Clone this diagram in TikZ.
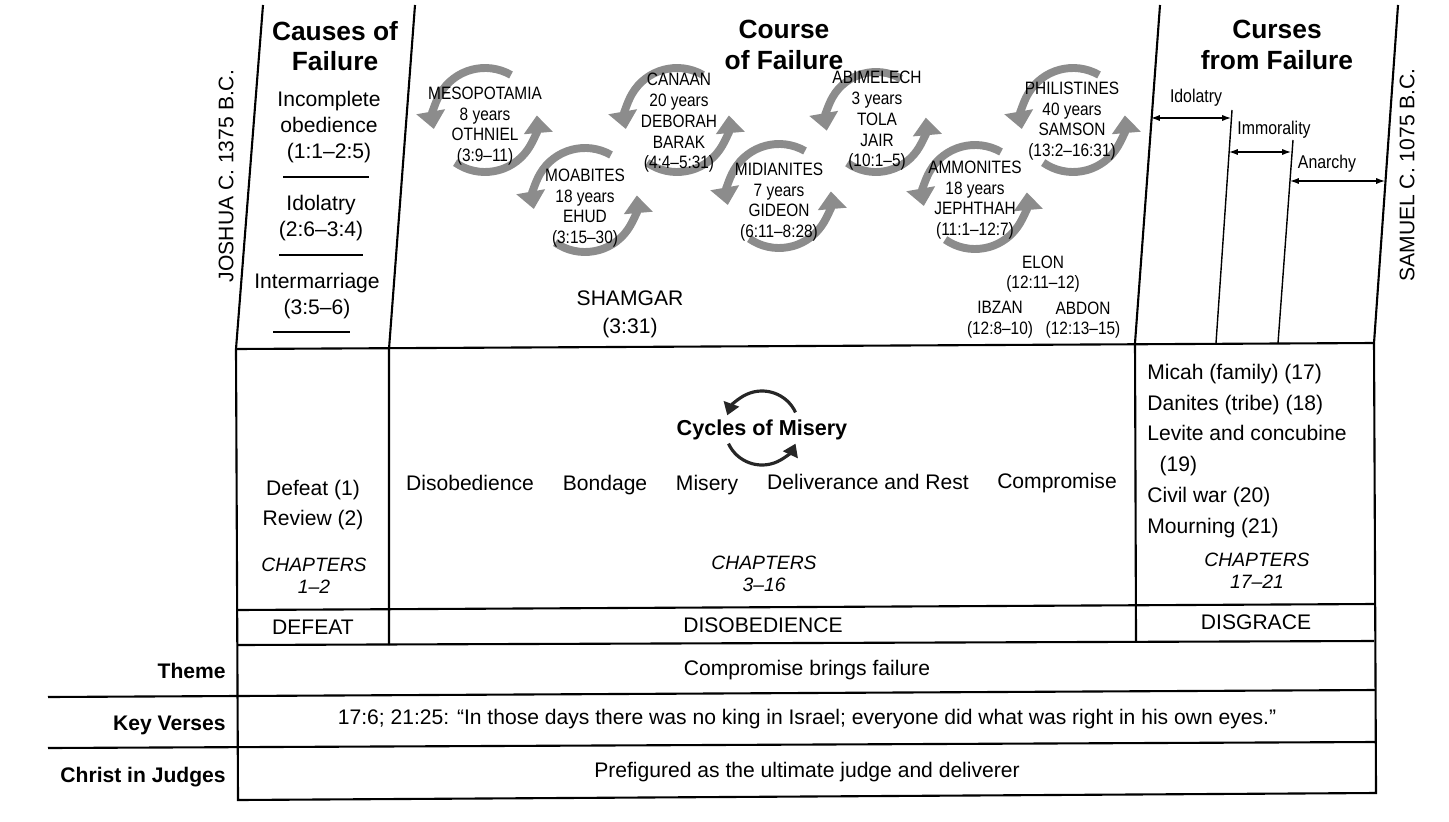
\documentclass[tikz,border=0pt]{standalone}
\usepackage{fontspec}
\setmainfont{Liberation Sans}
\newfontfamily\narrowfont[FakeStretch=0.86]{Liberation Sans}
\usetikzlibrary{arrows.meta,backgrounds}

\begin{document}
\begin{tikzpicture}[x=0.02cm,y=-0.02cm,
    boxline/.style={line width=1.2pt},
    sepline/.style={line width=0.8pt},
    headtxt/.style={font=\bfseries\fontsize{15}{17.5}\selectfont,align=center,inner sep=0pt},
    txt/.style={font=\fontsize{12}{15}\selectfont,align=center,inner sep=0pt},
    line/.style={txt,anchor=base},
    judge/.style={font=\narrowfont\fontsize{10.2}{11.8}\selectfont,align=center,inner sep=0pt},
    curse/.style={font=\narrowfont\fontsize{10.5}{12}\selectfont,anchor=base,inner sep=0pt},
    chap/.style={font=\itshape\fontsize{11}{12.5}\selectfont,align=center,inner sep=0pt},
    rowlab/.style={font=\bfseries\fontsize{12}{14}\selectfont,anchor=base east,inner sep=0pt},
    cycarrow/.style={draw=black!45,line width=4.5pt,-{Triangle[width=16pt,length=10pt]}},
    misarrow/.style={draw=black!85,line width=1.8pt,-{Triangle[width=9pt,length=7pt]}},
    spanarrow/.style={line width=0.7pt,<->,>={Latex[length=5pt,width=3.5pt]}}]

    \useasboundingbox (0,0) rectangle (1449,821);

    % frame of the chart
    \draw[boxline] (263,5) -- (236,349) -- (238,800) -- (1376,793) -- (1374,343) -- (1398,5);
    \draw[boxline] (415,5) -- (389,349) -- (389,645);
    \draw[boxline] (1160,5) -- (1135,343) -- (1136,641);
    \draw[boxline] (236,349) -- (1374,343);
    \draw[boxline] (237,610) -- (1374,604);
    \draw[boxline] (237,645) -- (1374,641);
    \draw[boxline] (48,697) -- (1375,690);
    \draw[boxline] (48,748) -- (1375,742);

    % side dates
    \node[txt,rotate=90] (joshua) at (226,176) {JOSHUA C. 1375 B.C.};
    \node[txt,rotate=90] (samuel) at (1407,175) {SAMUEL C. 1075 B.C.};

    % causes
    \node[headtxt] (causes) at (335,46) {Causes of\\Failure};
    \node[txt] (incomp) at (329,127) {Incomplete\\obedience\\(1:1–2:5)};
    \draw[sepline] (283,177) -- (369,177);
    \node[txt] (idol) at (321,218) {Idolatry\\(2:6–3:4)};
    \draw[sepline] (279,255) -- (363,255);
    \node[txt] (inter) at (317,296) {Intermarriage\\(3:5–6)};
    \draw[sepline] (273,332) -- (350,332);

    % course
    \node[headtxt] (course) at (784,45) {Course\\of Failure};
    \node[judge] (meso) at (485,126) {MESOPOTAMIA\\8 years\\OTHNIEL\\(3:9–11)};
    \node[judge] (moab) at (585,208) {MOABITES\\18 years\\EHUD\\(3:15–30)};
    \node[judge] (canaan) at (679,123) {CANAAN\\20 years\\DEBORAH\\BARAK\\(4:4–5:31)};
    \node[judge] (midian) at (779,202) {MIDIANITES\\7 years\\GIDEON\\(6:11–8:28)};
    \node[judge] (abim) at (877,121) {ABIMELECH\\3 years\\TOLA\\JAIR\\(10:1–5)};
    \node[judge] (ammon) at (975,200) {AMMONITES\\18 years\\JEPHTHAH\\(11:1–12:7)};
    \node[judge] (phil) at (1072,121) {PHILISTINES\\40 years\\SAMSON\\(13:2–16:31)};

    % cycle centres
    \coordinate (c1) at (485,120);
    \coordinate (c2) at (585,200);
    \coordinate (c3) at (677,120);
    \coordinate (c4) at (779,196);
    \coordinate (c5) at (876,122);
    \coordinate (c6) at (975,197);
    \coordinate (c7) at (1073,120);

    \begin{pgfonlayer}{background}
        \draw[cycarrow] ([shift={(-60:52)}]c1) arc[start angle=-60,end angle=-190,radius=52];
        \draw[cycarrow] ([shift={(-235:52)}]c1) arc[start angle=-235,end angle=-365,radius=52];
        \draw[cycarrow] ([shift={(-60:52)}]c2) arc[start angle=-60,end angle=-190,radius=52];
        \draw[cycarrow] ([shift={(-235:52)}]c2) arc[start angle=-235,end angle=-365,radius=52];
        \draw[cycarrow] ([shift={(-60:52)}]c3) arc[start angle=-60,end angle=-190,radius=52];
        \draw[cycarrow] ([shift={(-235:52)}]c3) arc[start angle=-235,end angle=-365,radius=52];
        \draw[cycarrow] ([shift={(-60:52)}]c4) arc[start angle=-60,end angle=-190,radius=52];
        \draw[cycarrow] ([shift={(-235:52)}]c4) arc[start angle=-235,end angle=-365,radius=52];
        \draw[cycarrow] ([shift={(-60:50)}]c5) arc[start angle=-60,end angle=-190,radius=50];
        \draw[cycarrow] ([shift={(-235:50)}]c5) arc[start angle=-235,end angle=-365,radius=50];
        \draw[cycarrow] ([shift={(-60:52)}]c6) arc[start angle=-60,end angle=-190,radius=52];
        \draw[cycarrow] ([shift={(-235:52)}]c6) arc[start angle=-235,end angle=-365,radius=52];
        \draw[cycarrow] ([shift={(-60:52)}]c7) arc[start angle=-60,end angle=-190,radius=52];
        \draw[cycarrow] ([shift={(-235:52)}]c7) arc[start angle=-235,end angle=-365,radius=52];
    \end{pgfonlayer}

    \node[txt,font=\fontsize{12}{16}\selectfont] (shamgar) at (630,314) {SHAMGAR\\(3:31)};
    \node[judge] (elon) at (1043,274) {ELON\\(12:11–12)};
    \node[judge] (ibzan) at (1000,320) {IBZAN\\(12:8–10)};
    \node[judge] (abdon) at (1083,320) {ABDON\\(12:13–15)};

    % curses
    \node[headtxt] (curses) at (1277,45) {Curses\\from Failure};
    \draw[sepline] (1232,110) -- (1216,343);
    \draw[sepline] (1293,140) -- (1278,343);
    \coordinate (idolA) at (1151,118);
    \coordinate (idolB) at (1231,118);
    \coordinate (immA) at (1229,152);
    \coordinate (immB) at (1291,152);
    \coordinate (anaA) at (1290,181);
    \coordinate (anaB) at (1385,181);
    \draw[spanarrow] (idolA) -- (idolB);
    \draw[spanarrow] (immA) -- (immB);
    \draw[spanarrow] (anaA) -- (anaB);
    \node[curse] (cidol) at (1196,102.5) {Idolatry};
    \node[curse] (cimm) at (1274,134.5) {Immorality};
    \node[curse] (cana) at (1327,168.5) {Anarchy};

    % chapters
    \node[txt,font=\fontsize{12}{17.6}\selectfont] (defrev) at (313,505) {Defeat (1)\\Review (2)};
    \node[chap] (chapa) at (314,576) {CHAPTERS\\1–2};

    \node[line,font=\bfseries\fontsize{12.3}{15}\selectfont] (cycles) at (762,435) {Cycles of Misery};
    \coordinate (cm) at (762,428);
    \draw[misarrow] ([shift={(-25:37)}]cm) arc[start angle=-25,end angle=-160,radius=37];
    \draw[misarrow] ([shift={(-205:37)}]cm) arc[start angle=-205,end angle=-335,radius=37];
    \node[line] (disob) at (470,490) {Disobedience};
    \node[line] (bond) at (605,490) {Bondage};
    \node[line] (misery) at (707,490) {Misery};
    \node[line] (deliv) at (868,489) {Deliverance and Rest};
    \node[line] (compr) at (1057,488) {Compromise};
    \node[chap] (chapb) at (764,574) {CHAPTERS\\3–16};

    \node[txt,align=left,anchor=west,font=\fontsize{12}{17.6}\selectfont] (events) at (1147,451)
        {Micah (family) (17)\\Danites (tribe) (18)\\Levite and concubine\\\hspace*{7pt}(19)\\Civil war (20)\\Mourning (21)};
    \node[chap] (chapc) at (1257,571) {CHAPTERS\\17–21};

    % bottom rows
    \node[line] (defeat) at (313,634.5) {DEFEAT};
    \node[line] (disobed) at (763,632.5) {DISOBEDIENCE};
    \node[line] (disgrace) at (1256,629.5) {DISGRACE};

    \node[rowlab] (theme) at (226,678.5) {Theme};
    \node[line] (themetxt) at (807,675.5) {Compromise brings failure};
    \node[rowlab] (keyv) at (226,730.5) {Key Verses};
    \node[line] (keyvtxt) at (807,724.5) {17:6; 21:25: “In those days there was no king in Israel; everyone did what was right in his own eyes.”};
    \node[rowlab] (christ) at (226,782.5) {Christ in Judges};
    \node[line] (christtxt) at (807,777.5) {Prefigured as the ultimate judge and deliverer};
\end{tikzpicture}
\end{document}
